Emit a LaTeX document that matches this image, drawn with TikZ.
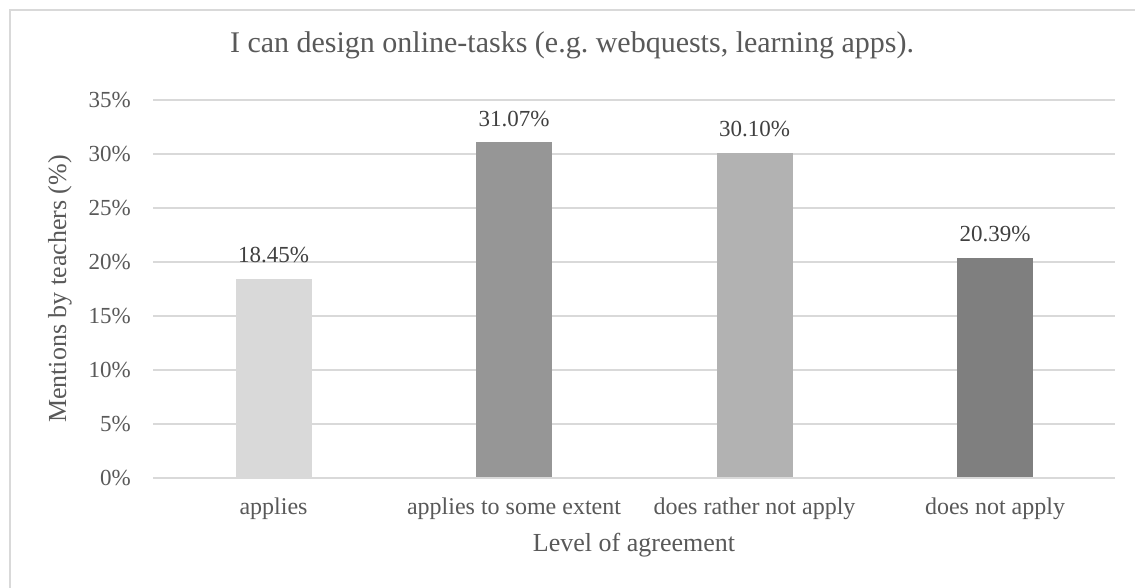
\documentclass[tikz,border=0pt]{standalone}
\usepackage{fontspec}
\setmainfont{Liberation Serif}
\definecolor{gridc}{HTML}{D9D9D9}
\definecolor{txtc}{HTML}{595959}
\definecolor{lblc}{HTML}{404040}
\definecolor{barA}{HTML}{D9D9D9}
\definecolor{barB}{HTML}{969696}
\definecolor{barC}{HTML}{B2B2B2}
\definecolor{barD}{HTML}{7F7F7F}
\tikzset{
  tick/.style={anchor=east,text=txtc,font=\fontsize{23}{26}\selectfont,inner sep=0pt},
  cat/.style={anchor=center,text=txtc,font=\fontsize{24}{28}\selectfont,inner sep=0pt},
  axtitle/.style={anchor=center,text=txtc,font=\fontsize{26}{30}\selectfont,inner sep=0pt},
  dlabel/.style={anchor=base,text=lblc,font=\fontsize{23}{26}\selectfont,inner sep=0pt},
  gridline/.style={draw=gridc,line width=1.3pt}
}
\begin{document}
\begin{tikzpicture}[x=1pt,y=-1pt]
\useasboundingbox (0,0) rectangle (1135,587);
\fill[white] (0,0) rectangle (1135,587);
% chart frame
\draw[gridc,line width=1.3pt] (10,620) -- (10,10) -- (1150,10);
% title
\node[text=txtc,font=\fontsize{30}{34}\selectfont,inner sep=0pt] (title) at (572,45) {I can design online-tasks (e.g.\ webquests, learning apps).};
% grid and ticks
\foreach \v [count=\i from 0] in {0,5,10,15,20,25,30,35}{
  \draw[gridline] (153,{478-10.8*\v}) -- (1115,{478-10.8*\v});
  \node[tick] (t\i) at (131,{478-10.8*\v}) {\v\%};
}
% bars
\def\bw{38}
\fill[barA] (273.5-\bw,478) rectangle (273.5+\bw,{478-10.8*18.45});
\fill[barB] (514-\bw,478) rectangle (514+\bw,{478-10.8*31.07});
\fill[barC] (754.5-\bw,478) rectangle (754.5+\bw,{478-10.8*30.10});
\fill[barD] (995-\bw,478) rectangle (995+\bw,{478-10.8*20.39});
\draw[gridline] (153,478) -- (1115,478);
% data labels
\node[dlabel] (d1) at (273.5,{478-10.8*18.45-16}) {18.45\%};
\node[dlabel] (d2) at (514,{478-10.8*31.07-16}) {31.07\%};
\node[dlabel] (d3) at (754.5,{478-10.8*30.10-16}) {30.10\%};
\node[dlabel] (d4) at (995,{478-10.8*20.39-16}) {20.39\%};
% categories
\node[cat] (c1) at (273.5,509) {applies};
\node[cat] (c2) at (514,509) {applies to some extent};
\node[cat] (c3) at (754.5,509) {does rather not apply};
\node[cat] (c4) at (995,509) {does not apply};
% axis titles
\node[axtitle] (xt) at (634,545) {Level of agreement};
\node[axtitle,rotate=90] (yt) at (60,289) {Mentions by teachers (\%)};
\end{tikzpicture}
\end{document}
